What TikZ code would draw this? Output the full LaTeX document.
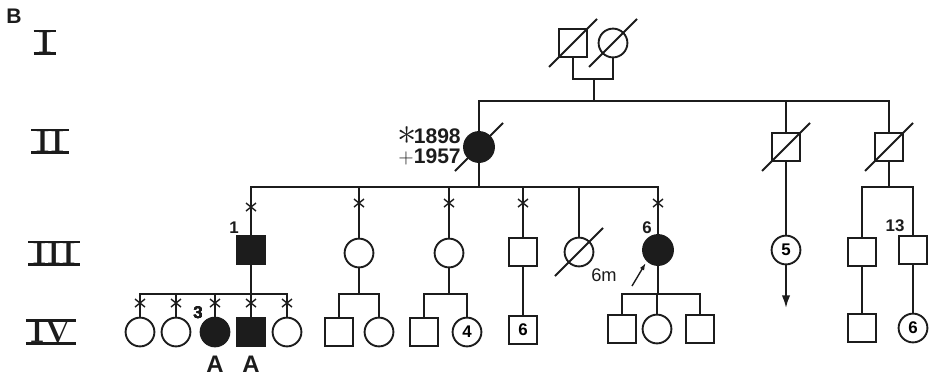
\documentclass[tikz,border=0pt]{standalone}
\usepackage{fontspec}
\usepackage{amsmath, amssymb}
\usetikzlibrary{positioning, calc, arrows.meta}
\newfontfamily\labfont{Liberation Sans}
\definecolor{Ink}{HTML}{1C1C1C}
\tikzset{
    maschio/.style={rectangle, draw=Ink, line width=1.35pt, minimum size=0.7cm, inner sep=0pt, font=\labfont\bfseries\fontsize{12}{12}\selectfont},
    femmina/.style={circle, draw=Ink, line width=1.35pt, minimum size=0.72cm, inner sep=0pt, font=\labfont\bfseries\fontsize{12}{12}\selectfont},
    affetto/.style={fill=Ink},
    linea/.style={line width=1.35pt, color=Ink},
    etichetta/.style={font=\labfont\bfseries\fontsize{12}{12}\selectfont, text=Ink, inner sep=0pt},
    generazione/.style={font=\bfseries\fontsize{23}{23}\selectfont, text=Ink, inner sep=0pt},
}
% barra dei deceduti e crocetta sulla linea di discendenza
\newcommand{\morto}[1]{\draw[linea] ([shift={(-24,24)}]#1.center) -- ([shift={(24,-24)}]#1.center);}
\newcommand{\croce}[1]{\draw[linea, line width=1pt] (#1) +(-5,-4) -- +(5,4) (#1) +(-5,4) -- +(5,-4);}
\newcommand{\barre}[1]{\draw[linea, line width=1.6pt] ([xshift=-3]#1.north west) -- ([xshift=3]#1.north east) ([xshift=-3]#1.south west) -- ([xshift=3]#1.south east);}

\begin{document}
\begin{tikzpicture}[x=0.025cm, y=-0.025cm, >=Latex]
    \useasboundingbox (0,0) rectangle (931,378);

    % Lettera e generazioni
    \node[etichetta, font=\labfont\bfseries\fontsize{15}{15}\selectfont] (lettera) at (14,16) {B};
    \node[generazione] (gI) at (45,42) {I};
    \node[generazione] (gII) at (50,141) {II};
    \node[generazione] (gIII) at (54,253) {III};
    \node[generazione] (gIV) at (51,332) {IV};
    \barre{gI} \barre{gII} \barre{gIII} \barre{gIV}

    % Generazione I
    \node[maschio] (I1) at (573,43) {};
    \node[femmina] (I2) at (613,43) {};
    \morto{I1} \morto{I2}
    \coordinate (u1) at (594,79);
    \coordinate (s1) at (594,101);
    \draw[linea] (I1.south) |- (u1) -| (I2.south);
    \draw[linea] (u1) -- (s1);

    % Generazione II
    \node[femmina, affetto, minimum size=0.75cm] (II1) at (479,147) {};
    \node[maschio] (II2) at (786,147) {};
    \node[maschio] (II3) at (889,147) {};
    \morto{II1} \morto{II2} \morto{II3}
    \draw[linea] (II1.north) |- (s1) -| (II3.north);
    \draw[linea] (II2.north) -- (II2.north |- s1);
    \node[etichetta, font=\labfont\bfseries\fontsize{15}{14.2}\selectfont, align=right, anchor=east] (date) at (461,146)
        {\raisebox{-1pt}{\scalebox{1.9}{$\ast$}}\hspace{-2pt}1898\\$+$1957};

    % Generazione III
    \coordinate (s2) at (479,187);
    \draw[linea] (II1.south) -- (s2);
    \node[maschio, affetto] (III1) at (251,250) {};
    \node[femmina] (III2) at (359,253) {};
    \node[femmina] (III3) at (449,253) {};
    \node[maschio] (III4) at (523,252) {};
    \node[femmina] (III5) at (579,252) {};
    \node[femmina, affetto, minimum size=0.75cm] (III6) at (658,250) {};
    \morto{III5}
    \draw[linea] (III1.north) |- (s2) -| (III6.north);
    \foreach \p in {III2, III3, III4, III5}
        \draw[linea] (\p.north) -- (\p.north |- s2);
    \croce{251,207} \croce{359,203} \croce{449,203} \croce{523,203} \croce{658,203}
    \node[etichetta] (n1) at (234,228) {1};
    \node[etichetta] (n6) at (647,228) {6};
    \node[etichetta, font=\labfont\fontsize{13}{13}\selectfont] (n6m) at (604,275) {6m};
    \coordinate (pr) at (632,286);
    \draw[linea, line width=1pt, -{Latex[length=5pt, width=3.5pt]}, shorten >=1.5pt] (pr) -- (III6.south west);

    \node[femmina] (III7) at (786,250) {5};
    \coordinate (freccia) at (786,308);
    \draw[linea] (II2.south) -- (III7.north);
    \draw[linea, -{Latex[length=9pt, width=6pt]}] (III7.south) -- (freccia);

    \coordinate (s3) at (889,187);
    \node[maschio] (III8) at (862,252) {};
    \node[maschio] (III9) at (913,250) {};
    \draw[linea] (II3.south) -- (s3);
    \draw[linea] (III8.north) |- (s3) -| (III9.north);
    \node[etichetta] (n13) at (895,226) {13};

    % Generazione IV
    \coordinate (s4) at (251,294);
    \node[femmina] (IV1) at (140,332) {};
    \node[femmina] (IV2) at (176,332) {};
    \node[femmina, affetto] (IV3) at (215,332) {};
    \node[maschio, affetto] (IV4) at (251,332) {};
    \node[femmina] (IV5) at (287,332) {};
    \draw[linea] (III1.south) -- (s4);
    \draw[linea] (IV1.north) |- (s4) -| (IV5.north);
    \foreach \p in {IV2, IV3, IV4}
        \draw[linea] (\p.north) -- (\p.north |- s4);
    \foreach \x in {140, 176, 215, 251, 287}
        \croce{\x,303}
    \node[etichetta] (n3) at (198,313) {3};
    \node[etichetta, font=\labfont\bfseries\fontsize{17}{17}\selectfont] (a1) at (215,364) {A};
    \node[etichetta, font=\labfont\bfseries\fontsize{17}{17}\selectfont] (a2) at (251,364) {A};

    \coordinate (s5) at (359,294);
    \node[maschio] (IV6) at (339,332) {};
    \node[femmina] (IV7) at (379,332) {};
    \draw[linea] (III2.south) -- (s5);
    \draw[linea] (IV6.north) |- (s5) -| (IV7.north);

    \coordinate (s6) at (449,294);
    \node[maschio] (IV8) at (424,332) {};
    \node[femmina] (IV9) at (467,332) {4};
    \draw[linea] (III3.south) -- (s6);
    \draw[linea] (IV8.north) |- (s6) -| (IV9.north);

    \node[maschio] (IV10) at (523,330) {6};
    \draw[linea] (III4.south) -- (IV10.north);

    \coordinate (s7) at (658,294);
    \node[maschio] (IV11) at (622,329) {};
    \node[femmina] (IV12) at (657,329) {};
    \node[maschio] (IV13) at (700,329) {};
    \draw[linea] (III6.south) -- (s7);
    \draw[linea] (IV11.north) |- (s7) -| (IV13.north);
    \draw[linea] (IV12.north) -- (IV12.north |- s7);

    \node[maschio] (IV14) at (862,328) {};
    \node[femmina] (IV15) at (913,328) {6};
    \draw[linea] (III8.south) -- (IV14.north);
    \draw[linea] (III9.south) -- (IV15.north);
\end{tikzpicture}
\end{document}
